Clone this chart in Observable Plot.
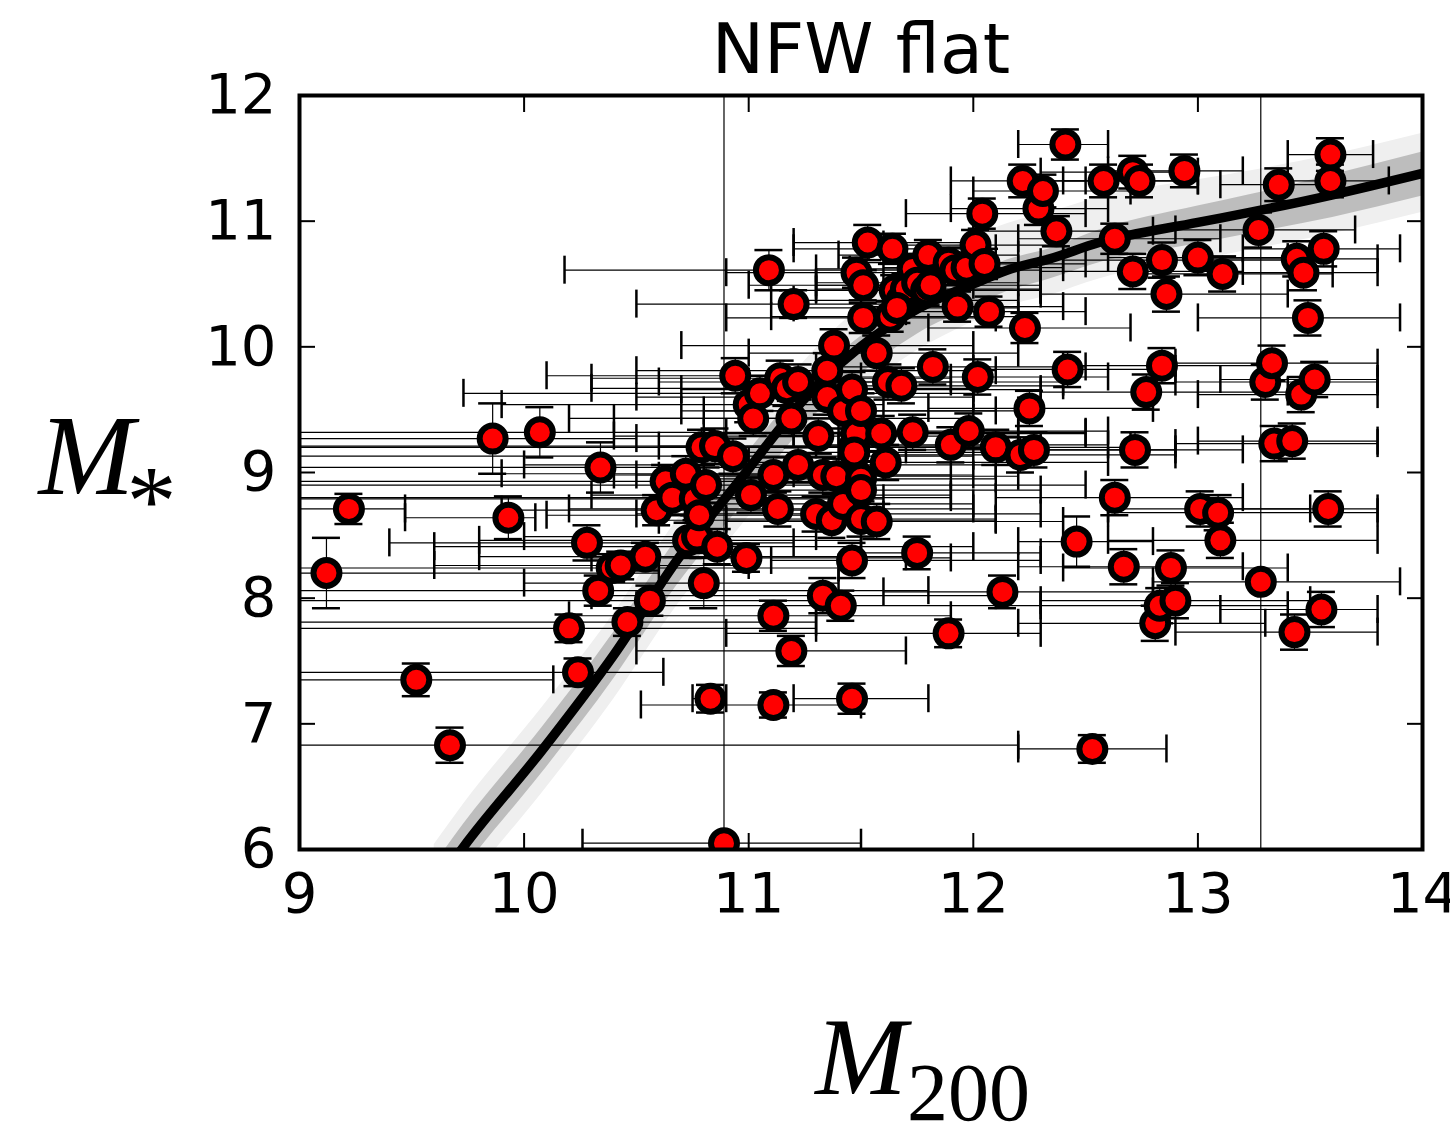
<!DOCTYPE html>
<html>
<head>
<meta charset="utf-8">
<script src="https://cdn.jsdelivr.net/npm/d3@7"></script>
<script src="https://cdn.jsdelivr.net/npm/@observablehq/plot@0.6"></script>
<style>
  html, body { margin: 0; padding: 0; background: white; }
</style>
</head>
<body>
<div id="chart"></div>
<script>
// ---- Data ----
const title = "NFW flat";
const xTicks = [9, 10, 11, 12, 13, 14];
const yTicks = [6, 7, 8, 9, 10, 11, 12];

// log M200 of each galaxy
const m200 = [
  9.12, 9.22, 9.52, 9.67, 9.86, 9.93, 10.07, 10.20, 10.24, 10.28,
  10.33, 10.34, 10.39, 10.43, 10.46, 10.54, 10.56, 10.59, 10.63, 10.66,
  10.72, 10.73, 10.77, 10.76, 10.78, 10.79, 10.80, 10.81, 10.83, 10.85,
  10.86, 10.89, 10.93, 10.94, 10.99, 11.00, 11.01, 11.02, 11.05, 11.09,
  11.11, 11.11, 11.11, 11.13, 11.14, 11.19, 11.19, 11.20, 11.17, 11.22,
  11.22, 11.30, 11.31, 11.33, 11.33, 11.35, 11.35, 11.37, 11.38, 11.39,
  11.41, 11.42, 11.42, 11.46, 11.46, 11.46, 11.47, 11.48, 11.48, 11.50,
  11.50, 11.50, 11.50, 11.51, 11.51, 11.53, 11.57, 11.57, 11.59, 11.61,
  11.62, 11.63, 11.64, 11.65, 11.68, 11.68, 11.70, 11.73, 11.73, 11.75,
  11.75, 11.79, 11.80, 11.82, 11.89, 11.90, 11.89, 11.92, 11.93, 11.98,
  11.97, 12.01, 12.02, 12.04, 12.05, 12.07, 12.10, 12.13, 12.21, 12.22,
  12.23, 12.25, 12.27, 12.29, 12.31, 12.37, 12.41, 12.42, 12.46, 12.53,
  12.58, 12.63, 12.63, 12.67, 12.71, 12.71, 12.72, 12.74, 12.77, 12.81,
  12.83, 12.84, 12.84, 12.86, 12.88, 12.90, 12.94, 13.00, 13.01, 13.09,
  13.10, 13.11, 13.27, 13.28, 13.30, 13.33, 13.34, 13.36, 13.42, 13.43,
  13.44, 13.46, 13.47, 13.49, 13.52, 13.55, 13.56, 13.58, 13.59, 13.59,
  11.47, 11.81, 11.66
];
// log M* of each galaxy
const mstar = [
  8.20, 8.71, 7.35, 6.83, 9.27, 8.64, 9.32, 7.76, 7.41, 8.44,
  8.06, 9.04, 8.24, 8.26, 7.81, 8.33, 7.98, 8.70, 8.93, 8.80,
  8.99, 8.46, 8.49, 8.79, 8.66, 9.20, 8.12, 8.90, 7.20, 9.21,
  8.41, 6.05, 9.13, 9.77, 8.32, 9.54, 8.82, 9.43, 9.63, 10.61,
  8.98, 7.86, 7.15, 8.71, 9.75, 7.58, 9.43, 10.34, 9.67, 9.72,
  9.06, 8.67, 9.29, 8.02, 8.98, 9.81, 9.60, 8.62, 10.01, 8.97,
  7.94, 9.49, 8.75, 8.30, 7.20, 9.66, 9.21, 10.59, 9.31, 8.95,
  8.86, 9.49, 8.63, 10.49, 10.23, 10.83, 8.61, 9.95, 9.31, 9.08,
  9.72, 10.24, 10.78, 10.45, 9.69, 10.37, 10.46, 9.32, 10.62, 8.36,
  10.51, 10.45, 10.73, 9.84, 7.72, 9.22, 10.67, 10.61, 10.32, 9.33,
  10.63, 10.81, 9.76, 11.06, 10.66, 10.28, 9.20, 8.05, 9.14, 11.32,
  10.15, 9.51, 9.18, 11.10, 11.24, 10.92, 11.61, 9.82, 8.45, 6.80,
  11.32, 8.80, 10.86, 8.25, 11.39, 10.60, 9.18, 11.32, 9.64, 7.80,
  7.94, 9.85, 10.69, 10.42, 8.24, 7.98, 11.40, 10.71, 8.71, 8.68,
  8.46, 10.58, 10.93, 8.13, 9.72, 9.87, 9.23, 11.29, 9.25, 7.73,
  10.70, 9.62, 10.59, 10.23, 9.74, 7.91, 10.78, 8.71, 11.53, 11.32,
  9.16, 10.49, 10.31
];
// lower / upper end of the M200 error bar
const m200Lo = [
  8.3, 8.5, 8.6, 8.5, 8.0, 9.47, 8.0, 8.0, 8.0, 9.4,
  8.0, 8.0, 8.0, 9.6, 8.0, 9.8, 8.0, 9.9, 8.0, 8.0,
  9.9, 9.8, 10.0, 8.0, 10.1, 8.0, 10.0, 8.0, 10.75, 8.0,
  9.6, 10.26, 8.0, 10.1, 10.3, 9.9, 10.3, 10.2, 9.73, 10.18,
  10.4, 10.2, 10.52, 10.2, 10.3, 10.5, 10.4, 10.5, 10.3, 10.6,
  10.0, 10.5, 10.4, 10.3, 10.5, 10.5, 10.5, 10.6, 10.7, 10.6,
  10.5, 10.7, 10.6, 11.1, 11.2, 10.7, 10.6, 10.9, 10.8, 10.8,
  10.7, 10.8, 10.9, 11.0, 10.9, 11.2, 10.9, 11.0, 10.9, 11.0,
  11.0, 11.1, 11.2, 11.1, 11.2, 11.2, 11.3, 11.2, 11.3, 11.5,
  11.3, 11.3, 11.4, 11.3, 10.9, 11.3, 11.5, 11.5, 11.5, 11.4,
  11.6, 11.6, 11.5, 11.7, 11.7, 11.7, 11.5, 11.6, 11.6, 11.9,
  11.8, 11.8, 11.7, 11.9, 12.0, 12.0, 12.2, 12.0, 12.2, 12.2,
  12.2, 12.1, 12.2, 12.2, 12.3, 12.3, 12.3, 12.4, 12.3, 12.2,
  12.3, 12.4, 12.4, 12.3, 12.4, 12.3, 12.6, 12.6, 12.6, 12.6,
  12.6, 12.7, 12.9, 12.8, 12.9, 12.9, 12.9, 13.1, 13.0, 12.9,
  13.0, 13.0, 13.1, 13.0, 13.1, 13.1, 13.2, 13.0, 13.4, 13.4,
  10.8, 11.3, 11.2
];
const m200Hi = [
  10.6, 9.47, 10.13, 12.2, 10.5, 10.05, 11.2, 11.3, 10.62, 11.2,
  11.8, 11.6, 11.4, 11.0, 11.3, 11.7, 11.3, 11.3, 11.5, 11.9,
  11.2, 11.5, 11.3, 11.6, 11.6, 11.4, 11.4, 12.5, 10.9, 11.6,
  12.0, 11.5, 12.0, 11.3, 11.9, 11.6, 11.9, 11.5, 12.0, 11.45,
  11.9, 11.9, 11.5, 12.0, 11.9, 11.7, 12.0, 11.7, 12.0, 11.9,
  12.1, 12.3, 12.2, 12.1, 12.0, 12.1, 12.0, 12.1, 12.0, 12.2,
  12.3, 12.1, 12.0, 12.3, 11.8, 12.3, 12.3, 12.0, 12.2, 12.1,
  12.3, 12.2, 12.1, 12.0, 12.1, 12.0, 12.4, 12.2, 12.5, 12.6,
  12.4, 12.2, 12.1, 12.3, 12.4, 12.2, 12.3, 12.5, 12.2, 12.3,
  12.2, 12.3, 12.2, 12.5, 12.3, 12.6, 12.3, 12.3, 12.4, 12.6,
  12.4, 12.4, 12.6, 12.5, 12.5, 12.5, 12.7, 12.8, 12.9, 12.5,
  12.7, 12.8, 12.9, 12.6, 12.7, 12.8, 12.6, 12.9, 12.8, 12.86,
  13.0, 13.2, 13.1, 13.2, 13.0, 13.2, 13.2, 13.0, 13.4, 13.3,
  13.4, 13.3, 13.4, 13.4, 13.4, 13.5, 13.2, 13.4, 13.5, 13.8,
  13.8, 13.6, 13.7, 13.9, 13.8, 13.8, 13.8, 13.6, 13.8, 13.8,
  13.8, 13.8, 13.8, 13.9, 13.8, 13.8, 13.9, 13.8, 13.78, 13.85,
  12.2, 12.3, 12.2
];
// half-size of the M* error bar
const mstarErr = [
  0.28, 0.12, 0.13, 0.14, 0.28, 0.17, 0.20, 0.11, 0.11, 0.14,
  0.12, 0.20, 0.11, 0.11, 0.11, 0.11, 0.12, 0.12, 0.13, 0.14,
  0.14, 0.14, 0.13, 0.13, 0.13, 0.14, 0.20, 0.14, 0.11, 0.14,
  0.14, 7.0, 0.14, 0.14, 0.11, 0.14, 0.14, 0.14, 0.14, 0.16,
  0.14, 0.12, 0.10, 0.14, 0.14, 0.12, 0.14, 0.11, 0.14, 0.14,
  0.14, 0.14, 0.14, 0.14, 0.14, 0.14, 0.14, 0.14, 0.13, 0.14,
  0.12, 0.14, 0.14, 0.14, 0.12, 0.14, 0.14, 0.12, 0.14, 0.14,
  0.14, 0.14, 0.14, 0.12, 0.12, 0.14, 0.14, 0.14, 0.14, 0.14,
  0.14, 0.12, 0.12, 0.12, 0.14, 0.12, 0.12, 0.14, 0.12, 0.13,
  0.12, 0.12, 0.12, 0.14, 0.11, 0.14, 0.12, 0.12, 0.12, 0.14,
  0.12, 0.12, 0.14, 0.12, 0.12, 0.12, 0.14, 0.13, 0.14, 0.13,
  0.12, 0.14, 0.14, 0.13, 0.13, 0.12, 0.12, 0.14, 0.20, 0.11,
  0.13, 0.14, 0.12, 0.14, 0.13, 0.14, 0.14, 0.13, 0.14, 0.14,
  0.14, 0.14, 0.14, 0.14, 0.14, 0.14, 0.13, 0.14, 0.14, 0.14,
  0.14, 0.14, 0.14, 7.0, 0.14, 0.14, 0.14, 0.13, 0.14, 0.14,
  0.14, 0.14, 0.14, 0.14, 0.14, 0.14, 0.14, 0.14, 0.13, 0.13,
  0.14, 0.12, 0.12
];

// Mean relation and its two scatter bands
const curveX  = [9.6, 9.73, 10.08, 10.4, 10.68, 11.0, 11.13, 11.24, 11.49, 11.75, 12.0, 12.15, 12.34, 12.56, 13.0, 13.23, 13.6, 14.0];
const curveY  = [5.70, 6.02, 6.79, 7.55, 8.30, 9.03, 9.33, 9.57, 9.99, 10.30, 10.50, 10.61, 10.70, 10.83, 10.99, 11.07, 11.21, 11.38];
const darkHi  = [5.88, 6.20, 6.97, 7.73, 8.47, 9.17, 9.45, 9.67, 10.07, 10.38, 10.58, 10.69, 10.78, 10.93, 11.12, 11.21, 11.37, 11.55];
const darkLo  = [5.52, 5.84, 6.61, 7.36, 8.10, 8.81, 9.11, 9.35, 9.77, 10.10, 10.32, 10.44, 10.54, 10.67, 10.82, 10.90, 11.03, 11.20];
const lightHi = [6.04, 6.36, 7.13, 7.88, 8.62, 9.33, 9.63, 9.87, 10.31, 10.65, 10.87, 10.98, 11.07, 11.19, 11.33, 11.40, 11.53, 11.70];
const lightLo = [5.36, 5.68, 6.45, 7.20, 7.94, 8.65, 8.95, 9.19, 9.63, 9.97, 10.20, 10.32, 10.41, 10.54, 10.69, 10.77, 10.90, 11.07];

// ---- Tables built from the arrays ----
const rows = m200.map((x, i) => ({
  x, y: mstar[i], xlo: m200Lo[i], xhi: m200Hi[i],
  ylo: mstar[i] - mstarErr[i], yhi: mstar[i] + mstarErr[i]
}));
const band = curveX.map((x, i) => ({
  x, y: curveY[i], dl: darkLo[i], dh: darkHi[i], ll: lightLo[i], lh: lightHi[i]
}));

const serif = "'Liberation Serif', 'DejaVu Serif', serif";
const intFmt = d => String(d);
const capX = {stroke: "black", strokeWidth: 2.5, insetTop: -14, insetBottom: -14, clip: true};
const capY = {stroke: "black", strokeWidth: 2.5, insetLeft: -14, insetRight: -14, clip: true};

const chart = Plot.plot({
  width: 1450,
  height: 1130,
  marginLeft: 299,
  marginRight: 28,
  marginTop: 95,
  marginBottom: 281,
  x: {domain: [9, 14]},
  y: {domain: [6, 12]},
  style: {fontFamily: "'DejaVu Sans', sans-serif", background: "white", color: "black"},
  marks: [
    Plot.areaY(band, {x: "x", y1: "ll", y2: "lh", fill: "#efefef", curve: "monotone-x", clip: true}),
    Plot.areaY(band, {x: "x", y1: "dl", y2: "dh", fill: "#bdbdbd", curve: "monotone-x", clip: true}),
    Plot.line(band, {x: "x", y: "y", stroke: "black", strokeWidth: 9.5, curve: "monotone-x", clip: true}),
    Plot.ruleY(rows, {y: "y", x1: "xlo", x2: "xhi", stroke: "black", strokeWidth: 1.2, clip: true}),
    Plot.ruleX(rows, {x: "x", y1: "ylo", y2: "yhi", stroke: "black", strokeWidth: 1.2, clip: true}),
    Plot.ruleX(rows, {x: "xlo", y1: "y", y2: "y", ...capX}),
    Plot.ruleX(rows, {x: "xhi", y1: "y", y2: "y", ...capX}),
    Plot.ruleY(rows, {y: "ylo", x1: "x", x2: "x", ...capY}),
    Plot.ruleY(rows, {y: "yhi", x1: "x", x2: "x", ...capY}),
    Plot.dot(rows, {x: "x", y: "y", r: 13, fill: "#ff0000", stroke: "black", strokeWidth: 6, clip: true}),
    Plot.frame({stroke: "black", strokeWidth: 4}),
    Plot.axisX({anchor: "bottom", ticks: xTicks, tickFormat: intFmt, tickSize: -16, tickPadding: 39, fontSize: 56, strokeWidth: 2, label: null}),
    Plot.axisX({anchor: "top", ticks: xTicks, tickSize: -16, tickFormat: () => "", strokeWidth: 2, label: null}),
    Plot.axisY({anchor: "left", ticks: yTicks, tickFormat: intFmt, tickSize: -16, tickPadding: 39, fontSize: 56, strokeWidth: 2, label: null}),
    Plot.axisY({anchor: "right", ticks: yTicks, tickSize: -16, tickFormat: () => "", strokeWidth: 2, label: null}),
    Plot.text([title], {text: d => d, frameAnchor: "top", dy: -23, lineAnchor: "bottom", fontSize: 70}),
    Plot.text(["M"], {text: d => d, frameAnchor: "left", dx: -213, dy: 21, lineAnchor: "bottom", textAnchor: "middle", fontSize: 115, fontFamily: serif, fontStyle: "italic"}),
    Plot.text(["*"], {text: d => d, frameAnchor: "left", dx: -148, dy: 61, lineAnchor: "bottom", textAnchor: "middle", fontSize: 100, fontFamily: serif}),
    Plot.text(["M"], {text: d => d, frameAnchor: "bottom", dx: 0, dy: 244, lineAnchor: "bottom", textAnchor: "middle", fontSize: 110, fontFamily: serif, fontStyle: "italic"}),
    Plot.text(["200"], {text: d => d, frameAnchor: "bottom", dx: 46, dy: 270, lineAnchor: "bottom", textAnchor: "start", fontSize: 82, fontFamily: serif})
  ]
});
document.getElementById("chart").appendChild(chart);
</script>
</body>
</html>
